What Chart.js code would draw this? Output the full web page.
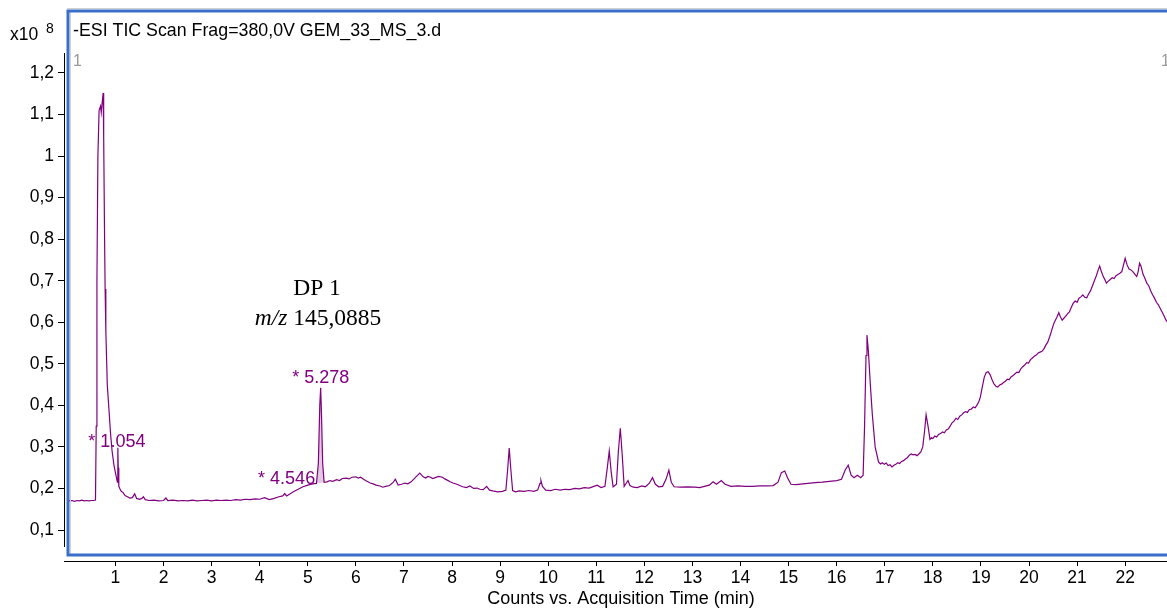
<!DOCTYPE html>
<html>
<head>
<meta charset="utf-8">
<script src="https://cdn.jsdelivr.net/npm/chart.js@4.4.1/dist/chart.umd.min.js"></script>
<style>
  html, body { margin: 0; padding: 0; background: #fff; overflow: hidden; }
  #wrap { width: 1167px; height: 609px; }
</style>
</head>
<body>
<div id="wrap"><canvas id="tic" width="1167" height="609"></canvas></div>
<script>
// TIC trace, acquisition time (min) vs counts (x10^8)
const timeMin = [
  0.00, 0.05, 0.10, 0.15, 0.20, 0.25, 0.30, 0.35, 0.40, 0.45, 0.50, 0.55, 0.585,
  0.60, 0.615, 0.635, 0.66, 0.69, 0.705, 0.725, 0.745, 0.755, 0.77, 0.785, 0.80, 0.83, 0.865, 0.90, 0.93, 0.97,
  1.01, 1.04, 1.05, 1.058, 1.07, 1.09, 1.12, 1.16, 1.20, 1.25, 1.30, 1.35, 1.40, 1.44, 1.50, 1.55, 1.58,
  1.62, 1.70, 1.80, 1.90, 2.00, 2.05, 2.09, 2.20, 2.30, 2.40, 2.50, 2.60, 2.70, 2.80, 2.90, 3.00, 3.10,
  3.20, 3.30, 3.40, 3.50, 3.60, 3.70, 3.80, 3.90, 4.00, 4.10, 4.20, 4.30, 4.40, 4.48, 4.52, 4.56, 4.62,
  4.70, 4.80, 4.90, 5.00, 5.10, 5.18, 5.22, 5.25, 5.268, 5.285, 5.31, 5.34, 5.40, 5.46, 5.52, 5.60, 5.66, 5.72, 5.80,
  5.86, 5.92, 6.00, 6.05, 6.10, 6.16, 6.22, 6.30, 6.36, 6.42, 6.50, 6.56, 6.62, 6.70, 6.78, 6.82, 6.88, 6.95, 7.02, 7.08, 7.15, 7.25,
  7.33, 7.40, 7.45, 7.50, 7.55, 7.60, 7.65, 7.72, 7.80, 7.85, 7.90, 7.96, 8.02, 8.10, 8.16, 8.22, 8.30, 8.37, 8.45, 8.52, 8.58, 8.65, 8.72,
  8.78, 8.85, 8.95, 9.05, 9.12, 9.16, 9.19, 9.22, 9.26, 9.32, 9.40, 9.50, 9.60, 9.70, 9.78, 9.83, 9.85,
  9.88, 9.95, 10.05, 10.15, 10.25, 10.35, 10.45, 10.55, 10.65, 10.75, 10.85, 10.95, 11.02, 11.10, 11.18,
  11.23, 11.27, 11.31, 11.35, 11.42, 11.46, 11.50, 11.54, 11.58, 11.62, 11.66, 11.70, 11.77, 11.85, 11.95,
  12.02, 12.10, 12.17, 12.23, 12.30, 12.38, 12.45, 12.51, 12.56, 12.62, 12.75, 12.90, 13.05, 13.15, 13.25,
  13.35, 13.43, 13.50, 13.60, 13.68, 13.80, 13.95, 14.10, 14.25, 14.40, 14.55, 14.68, 14.78, 14.85, 14.92,
  14.98, 15.05, 15.15, 15.30, 15.45, 15.55, 15.70, 15.85, 16.00, 16.10, 16.18, 16.24, 16.30, 16.36, 16.43,
  16.50, 16.55, 16.58, 16.61, 16.63, 16.66, 16.70, 16.74, 16.80, 16.87, 16.91, 16.95, 16.99, 17.03, 17.07,
  17.11, 17.15, 17.19, 17.23, 17.27, 17.31, 17.35, 17.39, 17.43, 17.47, 17.51, 17.55, 17.59, 17.63, 17.67,
  17.71, 17.75, 17.79, 17.83, 17.86, 17.90, 17.94, 17.97, 18.00, 18.04, 18.08, 18.12, 18.16, 18.20, 18.24,
  18.28, 18.32, 18.36, 18.40, 18.44, 18.48, 18.52, 18.56, 18.60, 18.64, 18.68, 18.72, 18.76, 18.80, 18.84,
  18.88, 18.92, 18.96, 18.99, 19.03, 19.07, 19.11, 19.15, 19.19, 19.23, 19.27, 19.31, 19.35, 19.39, 19.43,
  19.47, 19.51, 19.55, 19.59, 19.63, 19.67, 19.71, 19.75, 19.79, 19.83, 19.87, 19.91, 19.95, 19.99, 20.03,
  20.07, 20.11, 20.15, 20.19, 20.23, 20.27, 20.31, 20.35, 20.39, 20.43, 20.47, 20.51, 20.54, 20.58, 20.62,
  20.65, 20.69, 20.72, 20.76, 20.80, 20.84, 20.88, 20.92, 20.96, 21.00, 21.04, 21.08, 21.12, 21.16, 21.20,
  21.24, 21.28, 21.32, 21.36, 21.40, 21.44, 21.47, 21.50, 21.54, 21.58, 21.61, 21.65, 21.69, 21.73, 21.77,
  21.81, 21.85, 21.89, 21.93, 21.97, 22.00, 22.04, 22.08, 22.12, 22.16, 22.20, 22.24, 22.27, 22.30, 22.33,
  22.37, 22.41, 22.45, 22.49, 22.53, 22.57, 22.61, 22.65, 22.69, 22.73, 22.77, 22.81, 22.85, 22.90
];
const countsE8 = [
  0.172, 0.170, 0.171, 0.169, 0.171, 0.170, 0.172, 0.170, 0.171, 0.170, 0.171, 0.171, 0.172,
  0.35, 0.70, 1.00, 1.11, 1.12, 1.105, 1.13, 1.152, 1.05, 0.85, 0.68, 0.58, 0.45, 0.39, 0.33, 0.29, 0.255,
  0.232, 0.215, 0.298, 0.25, 0.205, 0.200, 0.193, 0.190, 0.183, 0.180, 0.177, 0.178, 0.187, 0.176, 0.174, 0.176, 0.180,
  0.173, 0.171, 0.172, 0.170, 0.171, 0.177, 0.171, 0.172, 0.170, 0.171, 0.170, 0.172, 0.170, 0.171, 0.172, 0.170, 0.172,
  0.171, 0.172, 0.171, 0.173, 0.172, 0.174, 0.173, 0.175, 0.174, 0.178, 0.173, 0.176, 0.180, 0.182, 0.188, 0.182, 0.186,
  0.192, 0.198, 0.204, 0.208, 0.211, 0.212, 0.26, 0.40, 0.442, 0.38, 0.26, 0.215, 0.216, 0.219, 0.217, 0.221, 0.219, 0.224, 0.225,
  0.223, 0.227, 0.228, 0.225, 0.227, 0.222, 0.218, 0.213, 0.211, 0.208, 0.206, 0.203, 0.205, 0.207, 0.215, 0.222, 0.208, 0.210, 0.213, 0.211, 0.216, 0.228,
  0.237, 0.228, 0.225, 0.229, 0.227, 0.224, 0.226, 0.229, 0.227, 0.223, 0.220, 0.216, 0.213, 0.210, 0.207, 0.204, 0.202, 0.206, 0.200, 0.201, 0.198, 0.197, 0.205,
  0.196, 0.194, 0.192, 0.193, 0.196, 0.25, 0.297, 0.25, 0.195, 0.192, 0.194, 0.193, 0.195, 0.193, 0.196, 0.212, 0.219,
  0.205, 0.196, 0.195, 0.198, 0.196, 0.198, 0.197, 0.200, 0.199, 0.202, 0.201, 0.205, 0.208, 0.202, 0.205,
  0.25, 0.290, 0.24, 0.204, 0.21, 0.29, 0.345, 0.28, 0.205, 0.212, 0.219, 0.207, 0.203, 0.202, 0.206,
  0.204, 0.212, 0.226, 0.210, 0.204, 0.205, 0.222, 0.244, 0.215, 0.204, 0.203, 0.204, 0.203, 0.202, 0.205,
  0.208, 0.216, 0.210, 0.219, 0.210, 0.205, 0.206, 0.205, 0.205, 0.206, 0.206, 0.207, 0.215, 0.238, 0.242,
  0.225, 0.210, 0.209, 0.211, 0.213, 0.214, 0.215, 0.217, 0.219, 0.222, 0.245, 0.256, 0.232, 0.226, 0.232,
  0.226, 0.232, 0.35, 0.52, 0.569, 0.53, 0.45, 0.38, 0.30, 0.264, 0.259, 0.262, 0.258, 0.261, 0.255,
  0.257, 0.252, 0.256, 0.258, 0.262, 0.260, 0.265, 0.267, 0.271, 0.274, 0.280, 0.283, 0.281, 0.282, 0.279,
  0.283, 0.288, 0.300, 0.34, 0.377, 0.35, 0.318, 0.322, 0.320, 0.326, 0.324, 0.330, 0.332, 0.336, 0.334,
  0.341, 0.343, 0.350, 0.358, 0.362, 0.369, 0.366, 0.374, 0.377, 0.382, 0.385, 0.383, 0.390, 0.391, 0.396,
  0.394, 0.401, 0.410, 0.421, 0.445, 0.468, 0.479, 0.481, 0.474, 0.462, 0.452, 0.446, 0.444, 0.449, 0.451,
  0.455, 0.458, 0.463, 0.462, 0.469, 0.472, 0.476, 0.480, 0.479, 0.488, 0.493, 0.497, 0.503, 0.502, 0.510,
  0.514, 0.518, 0.521, 0.526, 0.528, 0.530, 0.536, 0.545, 0.552, 0.565, 0.580, 0.595, 0.603, 0.612, 0.623,
  0.614, 0.605, 0.609, 0.614, 0.620, 0.625, 0.636, 0.646, 0.651, 0.648, 0.658, 0.661, 0.666, 0.660, 0.659,
  0.668, 0.676, 0.688, 0.700, 0.712, 0.726, 0.735, 0.724, 0.711, 0.702, 0.694, 0.699, 0.703, 0.707, 0.705,
  0.712, 0.715, 0.718, 0.722, 0.740, 0.754, 0.738, 0.728, 0.726, 0.722, 0.716, 0.710, 0.722, 0.742, 0.735,
  0.716, 0.706, 0.694, 0.688, 0.676, 0.666, 0.658, 0.648, 0.642, 0.633, 0.624, 0.615, 0.605, 0.597
];

// integrated peaks (shaded) and their labels
const peakStart = [1.04, 4.48, 5.18];
const peakEnd = [1.07, 4.56, 5.34];
const peakLabelText = ["* 1.054", "* 4.546", "* 5.278"];
const peakLabelTime = [1.03, 4.56, 5.27];
const peakLabelCount = [0.312, 0.223, 0.466];

const xTicks = [1, 2, 3, 4, 5, 6, 7, 8, 9, 10, 11, 12, 13, 14, 15, 16, 17, 18, 19, 20, 21, 22];
const yTicks = [0.1, 0.2, 0.3, 0.4, 0.5, 0.6, 0.7, 0.8, 0.9, 1.0, 1.1, 1.2];

const SANS = "'Liberation Sans', Arial, sans-serif";
const SERIF = "'Liberation Serif', 'Times New Roman', serif";
const PURPLE = "#800080";

const extras = {
  id: "extras",
  beforeDatasetsDraw(chart) {
    const { ctx, scales: { x, y } } = chart;
    ctx.save();
    ctx.fillStyle = "rgba(150, 60, 150, 0.28)";
    for (let p = 0; p < peakStart.length; p++) {
      const pts = [];
      timeMin.forEach((t, i) => {
        if (t >= peakStart[p] && t <= peakEnd[p]) pts.push([x.getPixelForValue(t), y.getPixelForValue(countsE8[i])]);
      });
      if (pts.length < 2) continue;
      ctx.beginPath();
      ctx.moveTo(pts[0][0], pts[0][1]);
      pts.forEach(q => ctx.lineTo(q[0], q[1]));
      ctx.closePath();
      ctx.fill();
    }
    ctx.restore();
  },
  afterDraw(chart) {
    const { ctx, scales: { x, y } } = chart;
    ctx.save();
    // frame
    ctx.strokeStyle = "#d0d0d0";
    ctx.lineWidth = 1;
    ctx.beginPath();
    ctx.moveTo(67, 8.5); ctx.lineTo(1167, 8.5);
    ctx.moveTo(70.5, 12); ctx.lineTo(70.5, 554);
    ctx.stroke();
    ctx.strokeStyle = "#3a6fc9";
    ctx.lineWidth = 3;
    ctx.strokeRect(68, 11, 1110, 544);
    // y axis line
    ctx.strokeStyle = "#000";
    ctx.lineWidth = 1;
    ctx.beginPath();
    ctx.moveTo(64.5, 53); ctx.lineTo(64.5, 547);
    ctx.stroke();

    ctx.textBaseline = "middle";
    ctx.textAlign = "left";
    ctx.fillStyle = "#000";
    ctx.font = "17.8px " + SANS;
    ctx.fillText("-ESI TIC Scan Frag=380,0V GEM_33_MS_3.d", 73, 31);
    ctx.font = "17.5px " + SANS;
    ctx.fillText("x10", 10, 35);
    ctx.font = "14px " + SANS;
    ctx.fillText("8", 46, 29);
    ctx.fillStyle = "#999";
    ctx.font = "16px " + SANS;
    ctx.fillText("1", 73, 62);
    ctx.fillText("1", 1161, 62);

    // x axis title
    ctx.fillStyle = "#000";
    ctx.font = "18px " + SANS;
    ctx.textAlign = "center";
    ctx.fillText("Counts vs. Acquisition Time (min)", 621, 599);

    // peak labels
    ctx.fillStyle = PURPLE;
    ctx.font = "18px " + SANS;
    peakLabelText.forEach((s, i) => {
      ctx.fillText(s, x.getPixelForValue(peakLabelTime[i]), y.getPixelForValue(peakLabelCount[i]));
    });

    // compound annotation
    ctx.fillStyle = "#000";
    ctx.font = "23.5px " + SERIF;
    ctx.fillText("DP 1", 317, 289);
    const a = "m/z", b = " 145,0885";
    ctx.font = "italic 23.5px " + SERIF;
    const wa = ctx.measureText(a).width;
    ctx.font = "23.5px " + SERIF;
    const wb = ctx.measureText(b).width;
    const x0 = 318 - (wa + wb) / 2;
    ctx.textAlign = "left";
    ctx.font = "italic 23.5px " + SERIF;
    ctx.fillText(a, x0, 319);
    ctx.font = "23.5px " + SERIF;
    ctx.fillText(b, x0 + wa, 319);
    ctx.restore();
  }
};

new Chart(document.getElementById("tic"), {
  type: "line",
  data: {
    datasets: [
      {
        data: timeMin.map((t, i) => ({ x: t, y: countsE8[i] })),
        borderColor: PURPLE,
        borderWidth: 1.2,
        pointRadius: 0,
        tension: 0,
        fill: false,
      },
    ],
  },
  options: {
    responsive: false,
    animation: false,
    events: [],
    layout: { padding: { top: 53, left: 0, right: 0, bottom: 0 } },
    plugins: { legend: { display: false }, tooltip: { enabled: false } },
    scales: {
      x: {
        type: "linear",
        min: -0.07,
        max: 22.87,
        afterFit: (s) => { s.height = 48; },
        afterBuildTicks: (s) => { s.ticks = xTicks.map(v => ({ value: v })); },
        grid: { drawOnChartArea: false, tickLength: 5, color: "#000" },
        border: { display: true, color: "#000", width: 1 },
        ticks: {
          color: "#000",
          font: { family: SANS, size: 17.5 },
          padding: 2,
          maxRotation: 0,
          autoSkip: false,
          callback: (v) => String(v),
        },
        title: { display: false },
      },
      y: {
        type: "linear",
        min: 0.0254,
        max: 1.248,
        afterFit: (s) => { s.width = 64; },
        afterBuildTicks: (s) => { s.ticks = yTicks.map(v => ({ value: v })); },
        grid: { drawOnChartArea: false, tickLength: 6, color: "#000" },
        border: { display: false },
        ticks: {
          color: "#000",
          font: { family: SANS, size: 17.5 },
          padding: 4,
          autoSkip: false,
          callback: (v) => String(+(+v).toFixed(1)).replace(".", ","),
        },
      },
    },
  },
  plugins: [extras],
});
</script>
</body>
</html>
